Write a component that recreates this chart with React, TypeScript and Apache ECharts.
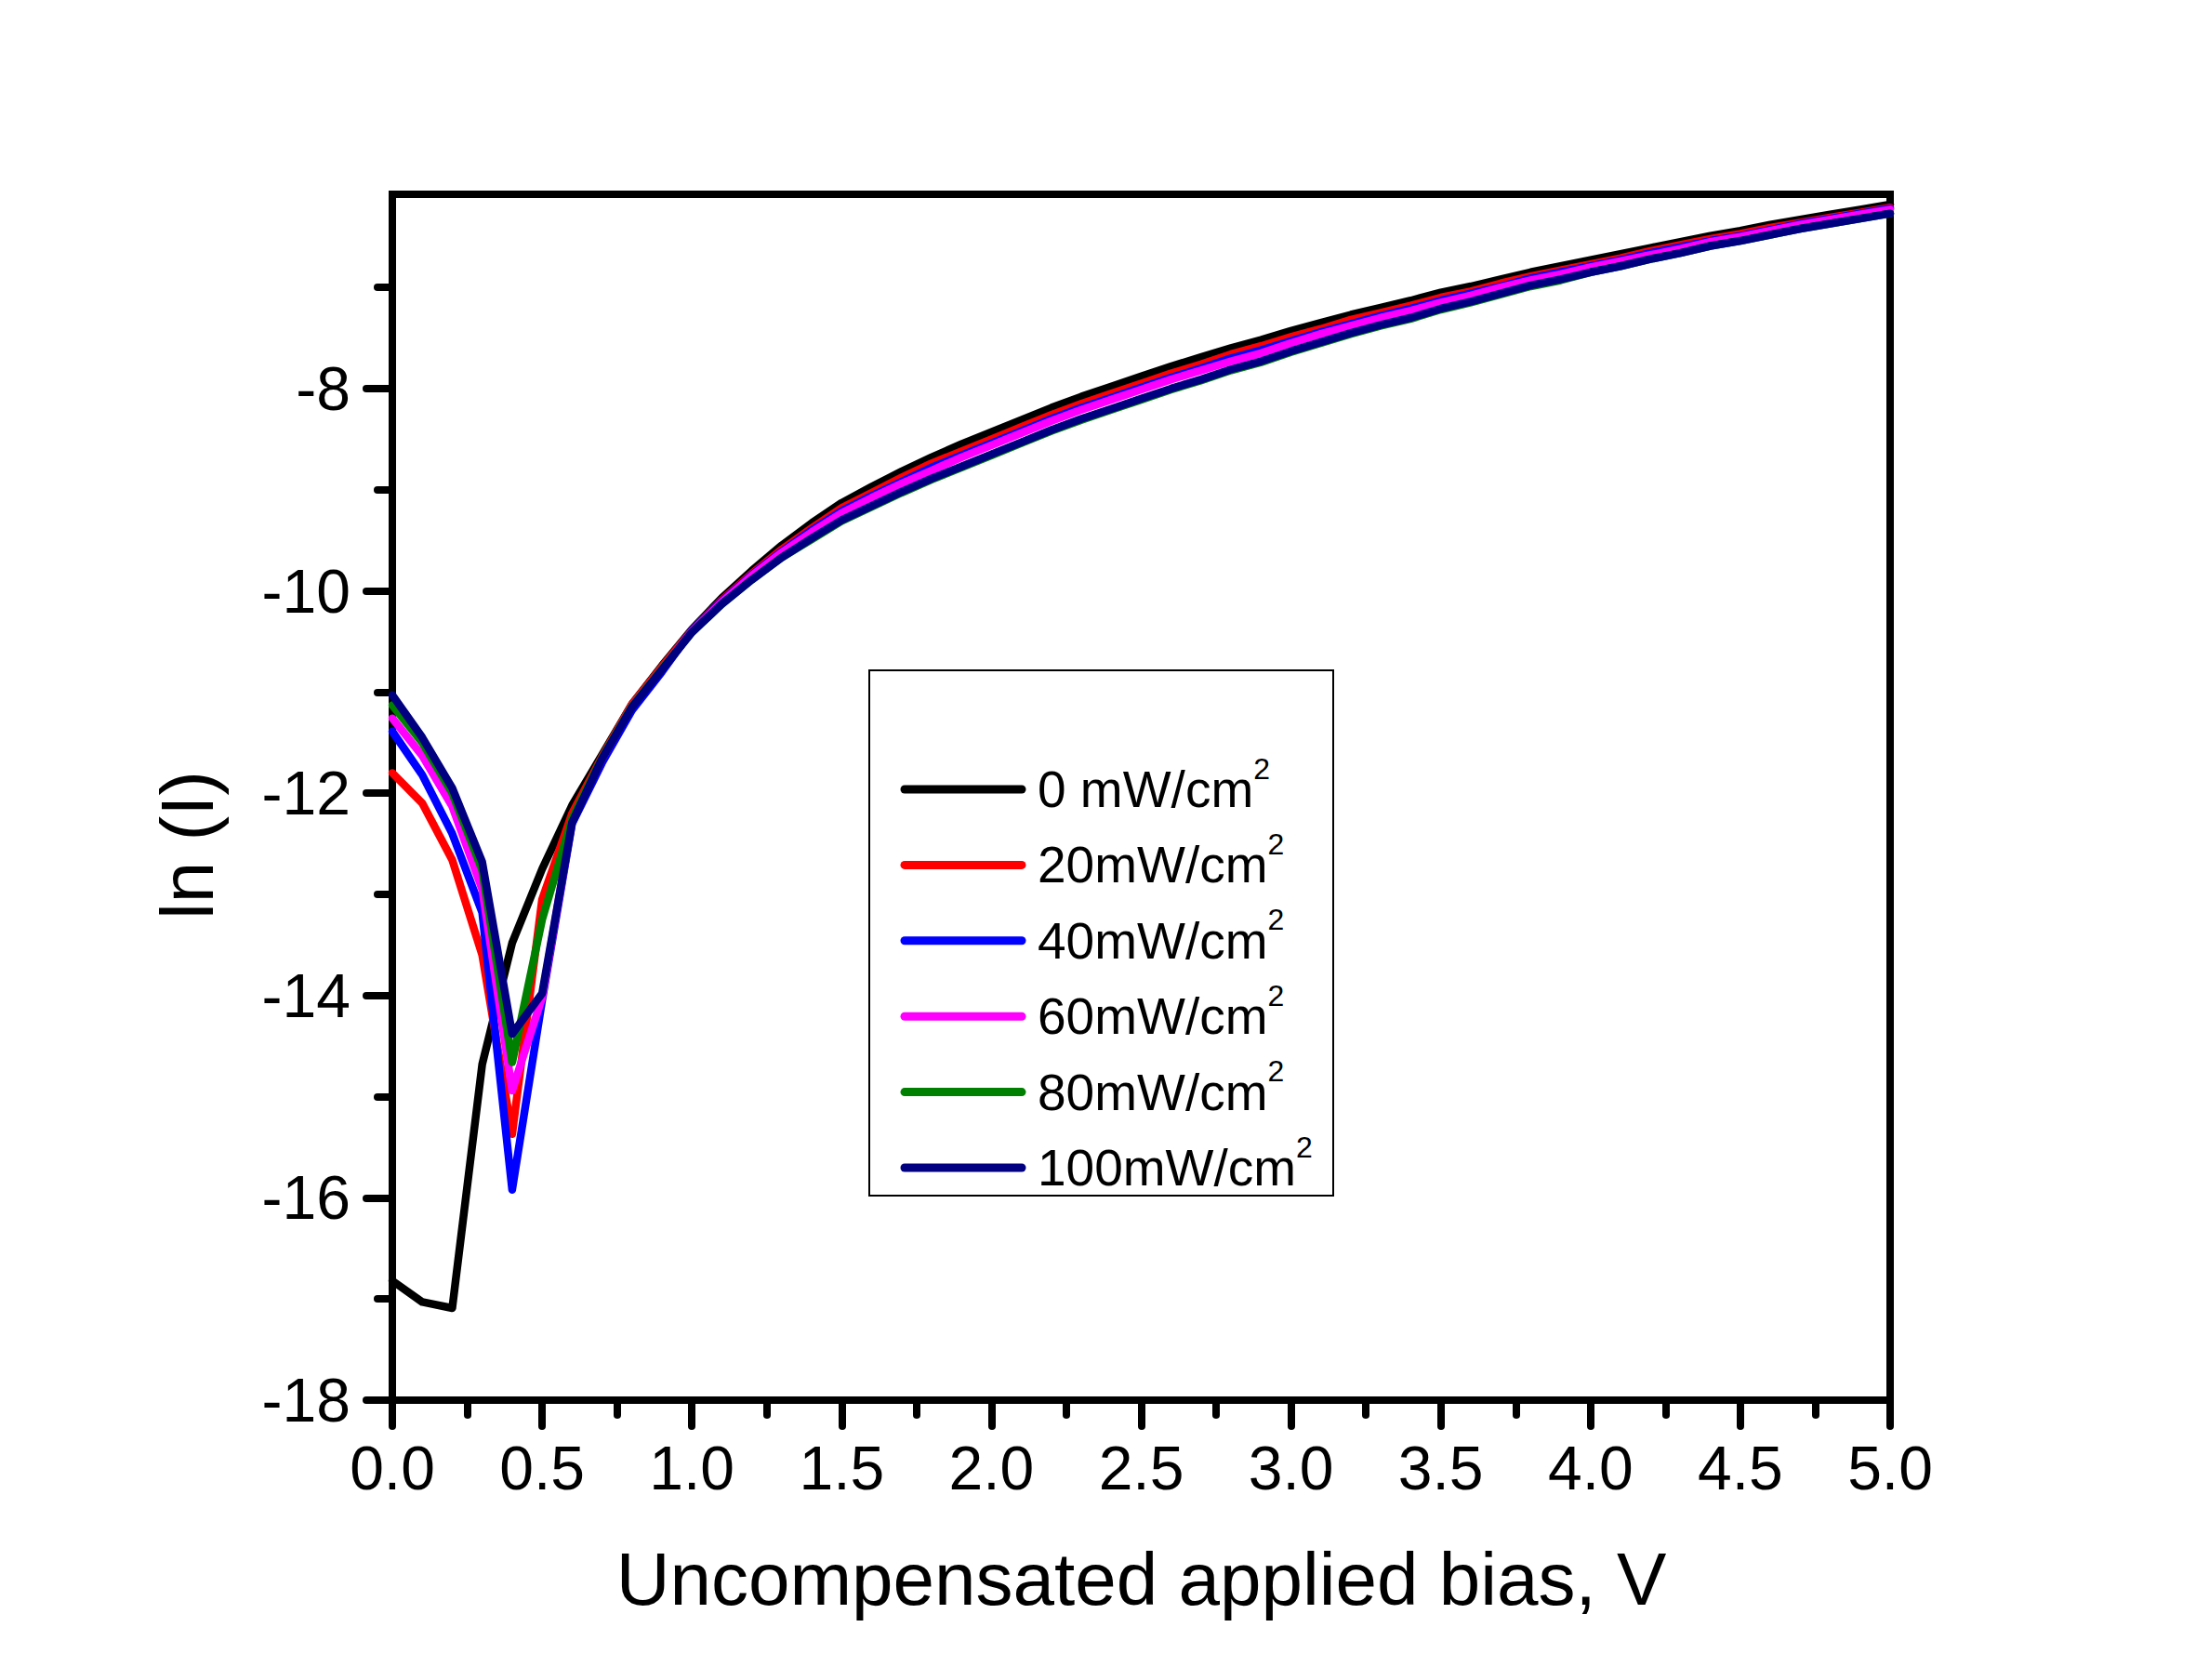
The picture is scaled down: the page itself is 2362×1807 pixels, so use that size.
import React, { useEffect, useRef } from 'react';
import * as echarts from 'echarts';

const xValues = [
  0.0, 0.1, 0.2, 0.3, 0.4, 0.5, 0.6, 0.7, 0.8, 0.9,
  1.0, 1.1, 1.2, 1.3, 1.4, 1.5, 1.6, 1.7, 1.8, 1.9,
  2.0, 2.1, 2.2, 2.3, 2.4, 2.5, 2.6, 2.7, 2.8, 2.9,
  3.0, 3.1, 3.2, 3.3, 3.4, 3.5, 3.6, 3.7, 3.8, 3.9,
  4.0, 4.1, 4.2, 4.3, 4.4, 4.5, 4.6, 4.7, 4.8, 4.9, 5.0,
];

const ln0 = [
  -16.82, -17.03, -17.09, -14.68, -13.48, -12.75, -12.12, -11.62, -11.12, -10.74,
  -10.38, -10.07, -9.80, -9.55, -9.33, -9.13, -8.97, -8.82, -8.68, -8.55,
  -8.43, -8.31, -8.19, -8.08, -7.98, -7.88, -7.78, -7.69, -7.60, -7.52,
  -7.43, -7.35, -7.27, -7.20, -7.13, -7.05, -6.99, -6.92, -6.85, -6.79,
  -6.73, -6.67, -6.61, -6.55, -6.49, -6.44, -6.38, -6.33, -6.28, -6.23, -6.18,
];

const ln20 = [
  -11.80, -12.10, -12.66, -13.60, -15.37, -13.05, -12.20, -11.64, -11.12, -10.75,
  -10.39, -10.09, -9.83, -9.59, -9.38, -9.18, -9.03, -8.88, -8.74, -8.62,
  -8.50, -8.38, -8.26, -8.15, -8.05, -7.95, -7.85, -7.76, -7.66, -7.58,
  -7.49, -7.41, -7.32, -7.25, -7.18, -7.10, -7.04, -6.96, -6.89, -6.83,
  -6.77, -6.71, -6.64, -6.58, -6.52, -6.47, -6.41, -6.36, -6.31, -6.26, -6.21,
];

const ln40 = [
  -11.39, -11.82, -12.40, -13.18, -15.92, -14.05, -12.30, -11.70, -11.18, -10.80,
  -10.39, -10.10, -9.84, -9.61, -9.40, -9.21, -9.06, -8.92, -8.78, -8.66,
  -8.54, -8.42, -8.30, -8.19, -8.09, -7.99, -7.89, -7.80, -7.70, -7.62,
  -7.53, -7.44, -7.36, -7.28, -7.21, -7.13, -7.06, -6.99, -6.91, -6.85,
  -6.79, -6.73, -6.66, -6.60, -6.54, -6.49, -6.43, -6.37, -6.32, -6.27, -6.22,
];

const ln60 = [
  -11.26, -11.63, -12.13, -12.95, -14.94, -14.02, -12.27, -11.66, -11.14, -10.77,
  -10.40, -10.11, -9.85, -9.62, -9.42, -9.23, -9.08, -8.94, -8.81, -8.68,
  -8.56, -8.44, -8.32, -8.21, -8.11, -8.01, -7.91, -7.82, -7.73, -7.65,
  -7.55, -7.46, -7.38, -7.30, -7.23, -7.15, -7.08, -7.00, -6.93, -6.87,
  -6.80, -6.74, -6.68, -6.62, -6.55, -6.50, -6.44, -6.38, -6.33, -6.28, -6.23,
];

const ln80 = [
  -11.13, -11.50, -12.00, -12.76, -14.66, -13.25, -12.25, -11.65, -11.14, -10.77,
  -10.41, -10.13, -9.89, -9.67, -9.49, -9.31, -9.17, -9.03, -8.90, -8.78,
  -8.66, -8.54, -8.42, -8.31, -8.21, -8.11, -8.01, -7.92, -7.82, -7.74,
  -7.64, -7.55, -7.46, -7.38, -7.31, -7.22, -7.15, -7.07, -6.99, -6.93,
  -6.85, -6.79, -6.72, -6.66, -6.59, -6.54, -6.48, -6.42, -6.37, -6.32, -6.27,
];

const ln100 = [
  -11.03, -11.45, -11.95, -12.68, -14.38, -13.98, -12.29, -11.66, -11.15, -10.78,
  -10.41, -10.13, -9.89, -9.67, -9.48, -9.30, -9.16, -9.02, -8.89, -8.77,
  -8.65, -8.53, -8.41, -8.30, -8.20, -8.10, -8.00, -7.91, -7.81, -7.73,
  -7.63, -7.54, -7.45, -7.37, -7.30, -7.21, -7.14, -7.06, -6.98, -6.92,
  -6.85, -6.79, -6.72, -6.66, -6.59, -6.54, -6.48, -6.42, -6.37, -6.32, -6.27,
];

const seriesNames = ['0 mW/cm²', '20mW/cm²', '40mW/cm²', '60mW/cm²', '80mW/cm²', '100mW/cm²'];
const seriesColors = ['#000000', '#ff0000', '#0000ff', '#ff00ff', '#008000', '#000080'];
const seriesValues = [ln0, ln20, ln40, ln60, ln80, ln100];

const yMajorTicks = [-18, -16, -14, -12, -10, -8];
const yMinorTicks = [-17, -15, -13, -11, -9, -7];

const xTitle = 'Uncompensated applied bias, V';
const yTitle = 'ln (I)';

const FONT = '"Liberation Sans", Arial, Helvetica, sans-serif';

export default function App() {
  const ref = useRef<HTMLDivElement>(null);

  useEffect(() => {
    if (!ref.current) return;
    const chart = echarts.init(ref.current, null, { renderer: 'svg' });

    const tickLine = { color: '#000', width: 8, cap: 'round' };

    // legend drawn as graphic rows (box + sample line + rich text)
    const legendTop = 849;
    const legendStep = 81.4;
    const legendGraphics: any[] = [
      {
        type: 'rect',
        shape: { x: 935, y: 721, width: 499, height: 565 },
        style: { fill: '#fff', stroke: '#000', lineWidth: 2 },
        silent: true,
        z: 10,
      },
    ];
    seriesNames.forEach((name, i) => {
      const cy = legendTop + i * legendStep;
      legendGraphics.push({
        type: 'line',
        shape: { x1: 973, y1: cy, x2: 1099, y2: cy },
        style: { stroke: seriesColors[i], lineWidth: 9, lineCap: 'round' },
        silent: true,
        z: 11,
      });
      legendGraphics.push({
        type: 'text',
        x: 1116,
        y: cy,
        style: {
          text: `{m|${name.replace('²', '')}}{s|2}`,
          align: 'left',
          verticalAlign: 'middle',
          textAlign: 'left',
          textVerticalAlign: 'middle',
          rich: {
            m: { fontSize: 55, fontFamily: FONT, fill: '#000', color: '#000', lineHeight: 66 },
            s: {
              fontSize: 32,
              fontFamily: FONT,
              fill: '#000',
              color: '#000',
              lineHeight: 32,
              verticalAlign: 'middle',
              padding: [0, 0, 45, 0],
            },
          },
        },
        silent: true,
        z: 11,
      });
    });

    chart.setOption({
      animation: false,
      backgroundColor: '#ffffff',
      grid: {
        left: 422,
        top: 209,
        width: 1611,
        height: 1297,
        show: true,
        borderColor: '#000',
        borderWidth: 8,
        backgroundColor: 'transparent',
      },
      xAxis: {
        type: 'value',
        min: 0,
        max: 5,
        interval: 0.5,
        position: 'bottom',
        axisLine: { show: true, lineStyle: { color: '#000', width: 8 } },
        axisTick: { show: true, inside: false, length: 28, lineStyle: tickLine },
        minorTick: { show: true, splitNumber: 2, length: 16, lineStyle: tickLine },
        splitLine: { show: false },
        minorSplitLine: { show: false },
        axisLabel: {
          margin: 40,
          fontSize: 66,
          color: '#000',
          fontFamily: FONT,
          formatter: (v: number) => v.toFixed(1),
        },
        name: xTitle,
        nameLocation: 'middle',
        nameGap: 152,
        nameTextStyle: { fontSize: 80, color: '#000', fontFamily: FONT },
      },
      yAxis: [
        {
          type: 'value',
          min: -18,
          max: -6.08,
          interval: 2,
          position: 'left',
          axisLine: { show: true, lineStyle: { color: '#000', width: 8 } },
          axisTick: { show: true, inside: false, length: 28, lineStyle: tickLine, customValues: yMajorTicks },
          splitLine: { show: false },
          axisLabel: {
            margin: 45,
            fontSize: 66,
            color: '#000',
            fontFamily: FONT,
            customValues: yMajorTicks,
            formatter: (v: number) => String(v),
          },
        },
        {
          type: 'value',
          min: -18,
          max: -6.08,
          interval: 1,
          position: 'left',
          axisLine: { show: false },
          axisTick: { show: true, inside: false, length: 16, lineStyle: tickLine, customValues: yMinorTicks },
          axisLabel: { show: false },
          splitLine: { show: false },
        },
      ],
      graphic: [
        ...legendGraphics,
        {
          type: 'text',
          x: 201,
          y: 909,
          rotation: Math.PI / 2,
          style: {
            text: yTitle,
            fontSize: 80,
            fontFamily: FONT,
            fill: '#000',
            align: 'center',
            verticalAlign: 'middle',
            textAlign: 'center',
            textVerticalAlign: 'middle',
          },
          silent: true,
        },
      ],
      series: seriesValues.map((vals, i) => ({
        name: seriesNames[i],
        type: 'line',
        xAxisIndex: 0,
        yAxisIndex: 0,
        symbol: 'none',
        showSymbol: false,
        smooth: false,
        color: seriesColors[i],
        lineStyle: { color: seriesColors[i], width: 8.5, cap: 'round', join: 'round' },
        data: xValues.map((x, j) => [x, vals[j]]),
        z: 2 + i,
      })),
    });

    return () => chart.dispose();
  }, []);

  return (
    <div
      ref={ref}
      style={{ position: 'fixed', left: 0, top: 0, width: 2362, height: 1807, background: '#fff' }}
    />
  );
}
